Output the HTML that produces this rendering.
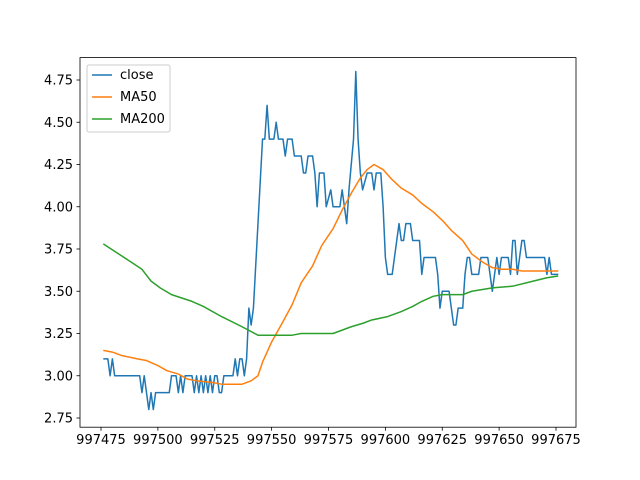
<!DOCTYPE html>
<html><head><meta charset="utf-8"><style>
body{margin:0;background:#fff}
svg{display:block;font-family:"DejaVu Sans","Liberation Sans",sans-serif}
</style></head><body>
<svg id="chart" width="640" height="480" viewBox="0 0 640 480" xmlns="http://www.w3.org/2000/svg">
<rect x="0" y="0" width="640" height="480" fill="#fff"/>
<g id="series"></g>
<g id="axes"></g>
<g>
<rect x="87" y="65" width="83" height="67" rx="2" fill="#fff" fill-opacity="0.8" stroke="#ccc"/>
<line x1="92" y1="75" x2="112" y2="75" stroke="#1f77b4" stroke-width="1.5"/>
<text x="120" y="79" font-size="13">close</text>
<line x1="92" y1="97" x2="112" y2="97" stroke="#ff7f0e" stroke-width="1.5"/>
<text x="120" y="101" font-size="13">MA50</text>
<line x1="92" y1="119" x2="112" y2="119" stroke="#2ca02c" stroke-width="1.5"/>
<text x="120" y="123" font-size="13">MA200</text>
</g>
</svg>
<script>
const base = 997476;
const closeX = [0,2,3,4,5,16,17,18,19,20,21,22,23,29,30,32,33,34,35,36,39,40,41,42,43,44,45,46,47,48,49,50,51,52,53,57,58,59,60,61,62,63,64,65,66,70,71,72,73,75,76,77,79,80,81,83,84,87,88,89,90,92,93,94,95,97,98,100,101,104,105,106,107,108,110,111,112,113,114,116,118,119,120,122,123,124,125,127,128,130,131,132,133,135,136,139,140,141,146,147,148,149,152,153,154,155,156,158,159,160,161,162,165,166,169,170,171,172,173,174,175,178,179,180,181,182,183,184,185,186,194,195,196,197,200];
const closeV = [3.1,3.1,3.0,3.1,3.0,3.0,2.9,3.0,2.9,2.8,2.9,2.8,2.9,2.9,3.0,3.0,2.9,3.0,2.9,3.0,3.0,2.9,3.0,2.9,3.0,2.9,3.0,2.9,3.0,2.9,3.0,3.0,2.9,2.9,3.0,3.0,3.1,3.0,3.1,3.1,3.0,3.1,3.4,3.3,3.4,4.4,4.4,4.6,4.4,4.4,4.5,4.4,4.4,4.3,4.4,4.4,4.3,4.3,4.2,4.2,4.3,4.3,4.2,4.0,4.2,4.2,4.0,4.1,4.0,4.0,4.1,4.0,3.9,4.1,4.4,4.8,4.4,4.2,4.1,4.2,4.2,4.1,4.2,4.2,4.0,3.7,3.6,3.6,3.7,3.9,3.8,3.8,3.9,3.9,3.8,3.8,3.6,3.7,3.7,3.6,3.4,3.5,3.5,3.4,3.3,3.3,3.4,3.4,3.6,3.7,3.7,3.6,3.6,3.7,3.7,3.6,3.5,3.6,3.7,3.6,3.7,3.7,3.6,3.8,3.8,3.6,3.7,3.8,3.8,3.7,3.7,3.6,3.7,3.6,3.6];
const ma50X = [0,4,8,15,19,24,28,33,37,41,48,52,61,65,68,70,74,79,83,87,92,96,101,105,109,113,116,119,123,127,131,136,140,145,149,153,158,162,167,171,175,180,184,193,200];
const ma50V = [3.15,3.14,3.12,3.10,3.09,3.06,3.03,3.01,2.98,2.97,2.96,2.95,2.95,2.97,3.0,3.08,3.2,3.32,3.42,3.55,3.65,3.77,3.87,3.98,4.08,4.17,4.22,4.25,4.22,4.16,4.11,4.07,4.02,3.97,3.92,3.86,3.80,3.72,3.67,3.64,3.63,3.63,3.62,3.62,3.62];
const ma200X = [0,8,17,21,25,30,39,44,52,61,68,83,87,101,105,109,114,118,125,131,136,140,145,149,158,162,171,180,189,195,200];
const ma200V = [3.78,3.71,3.63,3.56,3.52,3.48,3.44,3.41,3.35,3.29,3.24,3.24,3.25,3.25,3.27,3.29,3.31,3.33,3.35,3.38,3.41,3.44,3.47,3.48,3.48,3.50,3.52,3.53,3.56,3.58,3.59];
const xTicks = [997475,997500,997525,997550,997575,997600,997625,997650,997675];
const yTicks = [2.75,3.00,3.25,3.50,3.75,4.00,4.25,4.50,4.75];

const L=80,R=576,T=57.6,B=427.2;
function xs(v){return 101+(v-997475)*2.275;}
function ys(v){return 80+(4.75-v)*169;}
const NS="http://www.w3.org/2000/svg";
const sg=document.getElementById('series');
function line(xa,va,color,name){
  const p=document.createElementNS(NS,'polyline');
  p.setAttribute('points',xa.map((x,i)=>xs(base+x).toFixed(2)+','+ys(va[i]).toFixed(2)).join(' '));
  p.setAttribute('fill','none');p.setAttribute('stroke',color);p.setAttribute('stroke-width','1.5');
  p.setAttribute('stroke-linejoin','round');
  
  
  sg.appendChild(p);
}
line(closeX,closeV,'#1f77b4','close-line');
line(ma50X,ma50V,'#ff7f0e','ma50-line');
line(ma200X,ma200V,'#2ca02c','ma200-line');
const ag=document.getElementById('axes');
const fr=document.createElementNS(NS,'rect');
fr.setAttribute('x',L);fr.setAttribute('y',T);fr.setAttribute('width',R-L);fr.setAttribute('height',B-T);
fr.setAttribute('fill','none');fr.setAttribute('stroke','#000');fr.setAttribute('stroke-width','0.8');


ag.appendChild(fr);
xTicks.forEach(t=>{
  const x=xs(t);
  const l=document.createElementNS(NS,'line');
  l.setAttribute('x1',x);l.setAttribute('x2',x);l.setAttribute('y1',B);l.setAttribute('y2',B+3.5);
  l.setAttribute('stroke','#000');l.setAttribute('stroke-width','0.8');
  
  
  ag.appendChild(l);
  const tx=document.createElementNS(NS,'text');
  tx.setAttribute('x',x);tx.setAttribute('y',B+17);tx.setAttribute('font-size','13');tx.setAttribute('text-anchor','middle');
  tx.textContent=t;
  
  
  ag.appendChild(tx);
});
yTicks.forEach(t=>{
  const y=ys(t);
  const l=document.createElementNS(NS,'line');
  l.setAttribute('x1',L-3.5);l.setAttribute('x2',L);l.setAttribute('y1',y);l.setAttribute('y2',y);
  l.setAttribute('stroke','#000');l.setAttribute('stroke-width','0.8');
  
  
  ag.appendChild(l);
  const tx=document.createElementNS(NS,'text');
  tx.setAttribute('x',L-7);tx.setAttribute('y',y+4.5);tx.setAttribute('font-size','13');tx.setAttribute('text-anchor','end');
  tx.textContent=t.toFixed(2);
  
  
  ag.appendChild(tx);
});
</script>
</body></html>
